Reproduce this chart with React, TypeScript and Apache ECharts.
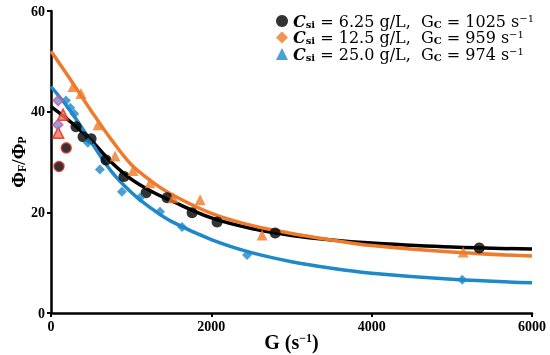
import React, { useEffect, useRef } from "react";
import * as echarts from "echarts";

// Tick values
const xTicks = [0, 2000, 4000, 6000];
const yTicks = [0, 20, 40, 60];

// Measured points (G, ΦF/ΦP)
const blackG = [312, 400, 500, 686, 911, 1186, 1448, 1760, 2072, 2796, 5342];
const blackV = [37.0, 35.0, 34.6, 30.4, 27.1, 23.9, 22.9, 19.9, 18.1, 15.9, 12.9];
const blackOutG = [100, 190];
const blackOutV = [29.1, 32.8];

const orangeG = [275, 374, 587, 799, 1023, 1236, 1523, 1860, 2633, 5142];
const orangeV = [45.0, 43.6, 37.4, 31.2, 28.3, 25.9, 22.9, 22.5, 15.5, 12.1];
const orangeOutG = [150, 90];
const orangeOutV = [39.4, 35.8];

const blueG = [187, 240, 290, 460, 610, 885, 1110, 1360, 1635, 2446, 5130];
const blueV = [42.2, 40.8, 39.6, 33.8, 28.5, 24.1, 22.9, 20.1, 17.1, 11.5, 6.6];
const blueOutG = [90, 85];
const blueOutV = [42.2, 37.4];

// Fitted curves
const curveG = [0, 250, 500, 750, 1000, 1250, 1500, 2000, 2500, 3000, 3500, 4000, 5000, 6000];
const blackCurve = [41.0, 37.9, 34.3, 30.0, 26.6, 24.2, 22.3, 18.9, 16.8, 15.4, 14.5, 13.9, 13.1, 12.7];
const orangeCurve = [52.0, 46.2, 40.2, 34.5, 29.5, 26.2, 23.6, 19.8, 17.4, 15.8, 14.5, 13.4, 12.1, 11.3];
const blueCurve = [45.0, 40.0, 34.0, 28.2, 24.0, 20.8, 18.2, 14.6, 12.0, 10.2, 8.9, 7.9, 6.7, 6.0];

const legendNames = ["s1", "s2", "s3"];
const legendCsi = ["6.25", "12.5", "25.0"];
const legendGc = ["1025", "959", "974"];

const BLACK = "#000000";
const ORANGE = "#EE7A2A";
const BLUE = "#1E88C8";
const RED = "#E52420";

const zip = (a: number[], b: number[]) => a.map((v, i) => [v, b[i]]);

export default function App() {
  const ref = useRef<HTMLDivElement>(null);
  useEffect(() => {
    if (!ref.current) return;
    const chart = echarts.init(ref.current, null, { renderer: "svg" });
    const font = "Liberation Serif";
    const lfont = "DejaVu Serif";
    const lineSeries = (data: number[], color: string) => ({
      type: "line",
      data: zip(curveG, data),
      smooth: 0.35,
      symbol: "none",
      lineStyle: { color, width: 3.5 },
      z: 2,
      silent: true,
    });
    const scatter = (name: string | undefined, g: number[], v: number[], symbol: string, size: number, color: string, border?: string) => ({
      type: "scatter",
      name,
      data: zip(g, v),
      symbol,
      symbolSize: size,
      itemStyle: { color, borderColor: border || color, borderWidth: border ? 1.5 : 0 },
      z: 3,
    });
    chart.setOption({
      animation: false,
      grid: { left: 51, right: 18, top: 11, bottom: 42, outerBoundsMode: "none", containLabel: false },
      legend: {
        left: 271,
        top: 8,
        orient: "vertical",
        itemGap: 0.5,
        itemWidth: 12,
        itemHeight: 12,
        data: [
          { name: "s1", icon: "circle", itemStyle: { color: BLACK } },
          { name: "s2", icon: "diamond", itemStyle: { color: ORANGE } },
          { name: "s3", icon: "triangle", itemStyle: { color: BLUE } },
        ],
        formatter: (n: string) => {
          const i = legendNames.indexOf(n);
          return `{c|C}{sub|si}{t| = ${legendCsi[i]} g/L,  G}{sub|C}{t| = ${legendGc[i]} s}{sup|−1}`;
        },
        textStyle: {
          fontFamily: lfont,
          fontSize: 16,
          color: "#000",
          rich: {
            c: { fontFamily: lfont, fontSize: 16, fontStyle: "italic", fontWeight: "bold", lineHeight: 16 },
            t: { fontFamily: lfont, fontSize: 16, lineHeight: 16 },
            sub: { fontFamily: lfont, fontSize: 10, fontWeight: "bold", padding: [6, 0, 0, 0], lineHeight: 10 },
            sup: { fontFamily: lfont, fontSize: 10, padding: [0, 0, 6, 0], lineHeight: 10 },
          },
        },
      },
      xAxis: {
        type: "value",
        min: xTicks[0],
        max: xTicks[xTicks.length - 1],
        interval: 2000,
        name: "{t|G (s}{sup|−1}{t|)}",
        nameLocation: "middle",
        nameGap: 19,
        nameMoveOverlap: false,
        nameTextStyle: {
          fontFamily: font,
          rich: {
            t: { fontFamily: font, fontSize: 20, fontWeight: "bold", color: "#000" },
            sup: { fontFamily: font, fontSize: 12, fontWeight: "bold", color: "#000", padding: [0, 0, 8, 0] },
          },
        },
        axisLine: { lineStyle: { color: "#000", width: 2.5 } },
        axisTick: { show: true, length: 4, lineStyle: { color: "#000", width: 2 } },
        axisLabel: { fontFamily: font, fontSize: 14, fontWeight: "bold", color: "#000", margin: 6, formatter: (v: number) => String(v) },
        splitLine: { show: false },
      },
      yAxis: {
        type: "value",
        min: yTicks[0],
        max: yTicks[yTicks.length - 1],
        interval: 20,
        name: "{t|Φ}{sub|F}{t|/Φ}{sub|P}",
        nameLocation: "middle",
        nameGap: 23,
        nameMoveOverlap: false,
        nameRotate: 90,
        nameTextStyle: {
          fontFamily: font,
          rich: {
            t: { fontFamily: font, fontSize: 19, fontWeight: "bold", color: "#000" },
            sub: { fontFamily: font, fontSize: 12, fontWeight: "bold", color: "#000", padding: [8, 0, 0, 0] },
          },
        },
        axisLine: { show: true, lineStyle: { color: "#000", width: 2.5 } },
        axisTick: { show: true, length: 4, lineStyle: { color: "#000", width: 2 } },
        axisLabel: { fontFamily: font, fontSize: 14, fontWeight: "bold", color: "#000", margin: 6, formatter: (v: number) => String(v) },
        splitLine: { show: false },
      },
      series: [
        lineSeries(blackCurve, BLACK),
        lineSeries(orangeCurve, ORANGE),
        lineSeries(blueCurve, BLUE),
        scatter("s1", blackG, blackV, "circle", 11, BLACK),
        scatter("s2", orangeG, orangeV, "triangle", 11, ORANGE),
        scatter("s3", blueG, blueV, "diamond", 10, BLUE),
        scatter(undefined, blackOutG, blackOutV, "circle", 10, BLACK, RED),
        scatter(undefined, orangeOutG, orangeOutV, "triangle", 11, "#F07A50", RED),
        scatter(undefined, blueOutG, blueOutV, "diamond", 10, "#6A8ED8", "#E0508A"),
      ],
    });
    return () => chart.dispose();
  }, []);
  return <div ref={ref} style={{ position: "fixed", left: 0, top: 0, width: 550, height: 355 }} />;
}
